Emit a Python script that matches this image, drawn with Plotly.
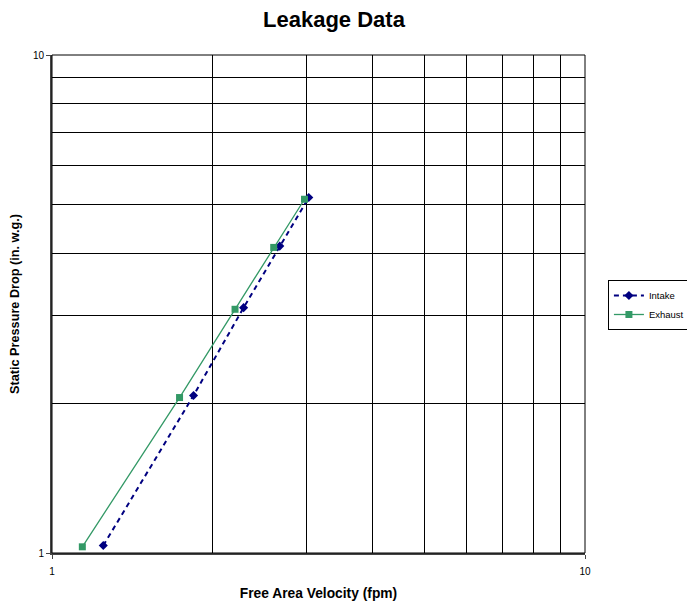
import plotly.graph_objects as go

intake_x = [1.248, 1.843, 2.288, 2.675, 3.032]
intake_y = [1.035, 2.072, 3.109, 4.133, 5.173]
exhaust_x = [1.140, 1.735, 2.205, 2.606, 2.977]
exhaust_y = [1.029, 2.052, 3.086, 4.108, 5.133]

major_ticks = [1, 10]
minor_ticks = [2, 3, 4, 5, 6, 7, 8, 9]

FONT = "Arial, Liberation Sans, sans-serif"

fig = go.Figure()
fig.add_trace(go.Scatter(
    x=intake_x, y=intake_y, name="Intake", mode="lines+markers",
    line=dict(color="#000080", width=2, dash="5px,4px"),
    marker=dict(symbol="diamond", size=7, color="#000080"),
))
fig.add_trace(go.Scatter(
    x=exhaust_x, y=exhaust_y, name="Exhaust", mode="lines+markers",
    line=dict(color="#339966", width=1.3),
    marker=dict(symbol="square", size=7, color="#339966"),
))

axis_common = dict(
    type="log", range=[0, 1], tickvals=major_ticks, ticktext=["1", "10"],
    showgrid=True, gridcolor="#000000", gridwidth=1,
    minor=dict(tickvals=minor_ticks, showgrid=True, gridcolor="#000000", gridwidth=1, ticks=""),
    showline=True, linecolor="#444444", linewidth=2,
    ticks="outside", ticklen=4, tickcolor="#444444",
    tickfont=dict(family=FONT, size=10, color="#000"),
    zeroline=False, automargin=False,
)

fig.update_xaxes(**axis_common, ticklabelstandoff=4,
                 title=dict(text="<b>Free Area Velocity (fpm)</b>",
                            font=dict(family=FONT, size=13.8, color="#000"),
                            standoff=14))
fig.update_yaxes(**axis_common,
                 title=dict(text="<b>Static Pressure Drop (in. w.g.)</b>",
                            font=dict(family=FONT, size=12.7, color="#000"),
                            standoff=16))

fig.add_shape(type="rect", xref="paper", yref="paper", x0=0, y0=0, x1=1, y1=1,
              line=dict(color="#000000", width=1))

fig.update_layout(
    width=687, height=593,
    margin=dict(l=44, r=110, t=47, b=48, autoexpand=False),
    paper_bgcolor="white", plot_bgcolor="white",
    title=dict(text="<b>Leakage Data</b>", x=0.4745, xref="container",
               y=0.9805, yref="container", yanchor="middle", xanchor="center",
               font=dict(family=FONT, size=22, color="#000"),
               automargin=False),
    legend=dict(x=1.043, y=0.498, xanchor="left", yanchor="middle",
                bordercolor="#000", borderwidth=1, bgcolor="white",
                font=dict(family=FONT, size=9.5, color="#000"),
                tracegroupgap=0, itemwidth=30),
    showlegend=True,
)

fig.write_html("out.html")
